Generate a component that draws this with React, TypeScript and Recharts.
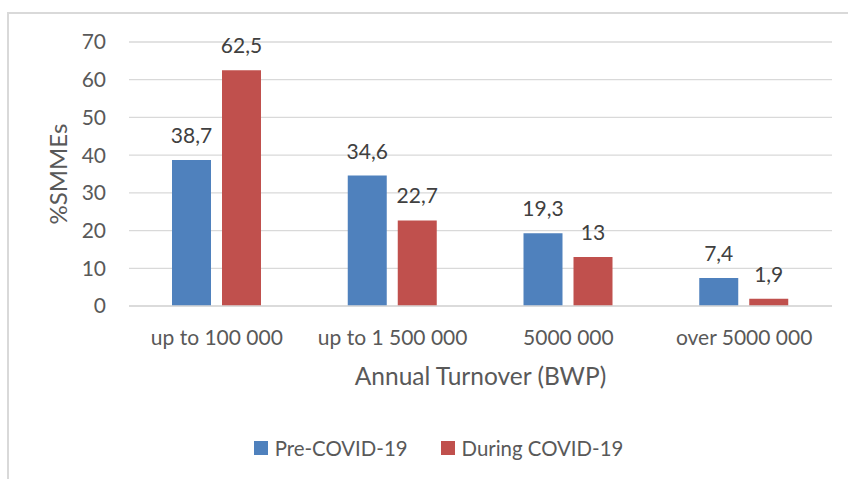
import React from 'react';
import { BarChart, Bar, XAxis, YAxis, CartesianGrid, Legend, LabelList } from 'recharts';

const categories = ['up to 100 000', 'up to 1 500 000', '5000 000', 'over 5000 000'];
const preCovid = [38.7, 34.6, 19.3, 7.4];
const duringCovid = [62.5, 22.7, 13, 1.9];
const yTicks = [0, 10, 20, 30, 40, 50, 60, 70];
const seriesNames = ['Pre-COVID-19', 'During COVID-19'];
const seriesColors = ['#4F81BD', '#C0504D'];

const data = categories.map((c, i) => ({ name: c, pre: preCovid[i], during: duringCovid[i] }));

const FONT = 'Lato, "Open Sans", sans-serif';
const fmt = (v: any) => String(v).replace('.', ',');

const YLabel = (props: any) => {
  const vb = props.viewBox || {};
  const cx = 57;
  const cy = vb.y + vb.height / 2;
  return (
    <text x={cx} y={cy} transform={`rotate(-90 ${cx} ${cy})`} textAnchor="middle" dominantBaseline="central"
      fill="#595959" fontSize={24} fontFamily={FONT}>%SMMEs</text>
  );
};

const LegendContent = (props: any) => {
  const items = [...(props.payload || [])].sort(
    (a: any, b: any) => seriesNames.indexOf(a.value) - seriesNames.indexOf(b.value)
  );
  return (
    <div style={{ display: 'flex', justifyContent: 'center', paddingLeft: 29, fontFamily: FONT, fontSize: 20.4, color: '#595959' }}>
      {items.map((it: any, i: number) => (
        <div key={i} style={{ display: 'flex', alignItems: 'center', marginRight: i < items.length - 1 ? 33 : 0 }}>
          <div style={{ width: 14, height: 14, background: it.color, marginRight: 7 }} />
          <span>{it.value}</span>
        </div>
      ))}
    </div>
  );
};

export default function App() {
  return (
    <div style={{ position: 'absolute', left: 0, top: 0, width: 848, height: 479, background: '#fff', overflow: 'hidden' }}>
      <div style={{ position: 'absolute', left: 7, top: 12, width: 900, height: 520, border: '2px solid #d9d9d9', boxSizing: 'border-box' }} />
      <div style={{ position: 'absolute', left: 0, top: 0 }}>
        <BarChart width={848} height={479} data={data} margin={{ top: 42, right: 16, left: 0, bottom: 83 }} barGap={11}>
          <CartesianGrid vertical={false} stroke="#d9d9d9" strokeWidth={1.3} />
          <XAxis dataKey="name" height={90} axisLine={{ stroke: '#d9d9d9', strokeWidth: 1.3 }} tickLine={false} tickSize={0} tickMargin={24}
            tick={{ fill: '#595959', fontSize: 21, fontFamily: FONT }} interval={0}
            label={{ value: 'Annual Turnover (BWP)', position: 'insideBottom', offset: 11, fill: '#595959', fontSize: 24.5, fontFamily: FONT }} />
          <YAxis width={129} domain={[0, 70]} ticks={yTicks} axisLine={false} tickLine={false} tickSize={0} tickMargin={23}
            tick={{ fill: '#595959', fontSize: 21, fontFamily: FONT }} label={<YLabel />} />
          <Legend verticalAlign="middle" align="center" layout="horizontal" content={<LegendContent />}
            wrapperStyle={{ top: 436, left: 0, width: 848 }} />
          <Bar dataKey="pre" name={seriesNames[0]} fill={seriesColors[0]} barSize={39} isAnimationActive={false}>
            <LabelList dataKey="pre" position="top" offset={17} formatter={fmt} fill="#404040" fontSize={21} fontFamily={FONT} />
          </Bar>
          <Bar dataKey="during" name={seriesNames[1]} fill={seriesColors[1]} barSize={39} isAnimationActive={false}>
            <LabelList dataKey="during" position="top" offset={17} formatter={fmt} fill="#404040" fontSize={21} fontFamily={FONT} />
          </Bar>
        </BarChart>
      </div>
    </div>
  );
}
